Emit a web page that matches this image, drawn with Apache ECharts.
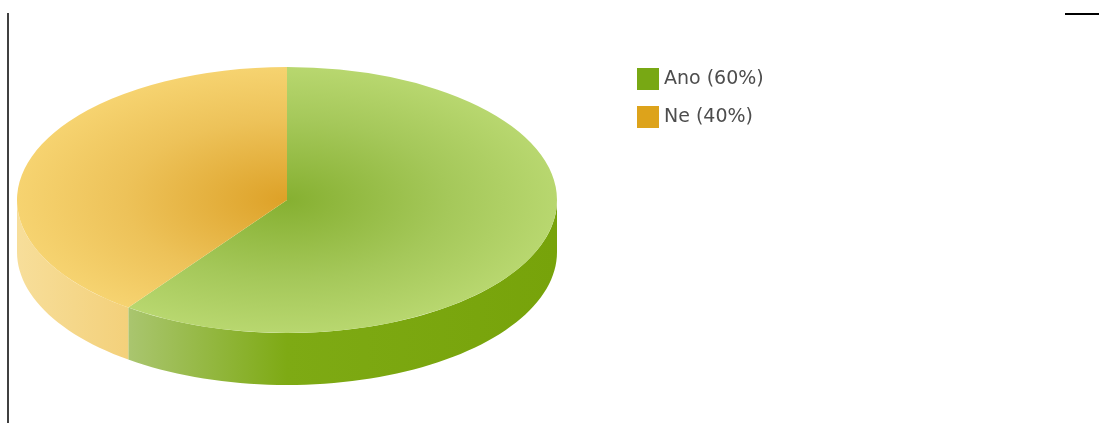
<!DOCTYPE html>
<html>
<head>
<meta charset="utf-8">
<title>Ano / Ne</title>
<script src="https://cdn.jsdelivr.net/npm/echarts@6/dist/echarts.min.js"></script>
<style>
  html, body { margin: 0; padding: 0; background: #fff; }
  #chart { width: 1099px; height: 423px; }
</style>
</head>
<body>
<div id="chart"></div>
<script>
// Answers and their counts
const categories = ['Ano', 'Ne'];
const values = [60, 40];
const swatchColors = ['#78a814', '#dda31b'];

// Shading for each slice: top face (centre -> rim) and side wall (left -> right)
const topStops = [
  ['#86b031', '#a5c85a', '#b8d76f'],
  ['#dda127', '#edc259', '#f6d370']
];
const sideStops = [
  ['#b9d186', '#a9c56e', '#7eaa14', '#77a30a'],
  ['#f7de9a', '#f3d07a', '#efc460', '#efc460']
];

// Pie layout (tilted disc)
const CX = 287, CY = 200, RX = 270, RY = 133, DEPTH = 52;

const total = values.reduce((a, b) => a + b, 0);
const startDeg = [];
let acc = 0;
values.forEach(v => { startDeg.push(acc / total * 360); acc += v; });

const rad = d => d * Math.PI / 180;
// angle measured clockwise from 12 o'clock
const rimPoint = (deg, dy) => [CX + RX * Math.sin(rad(deg)), CY - RY * Math.cos(rad(deg)) + dy];

function makeRender(idx) {
  return function (params, api) {
    const v = api.value(0);
    const a0 = startDeg[idx];
    const a1 = a0 + v / total * 360;
    const children = [];

    // visible outer wall: the front half of the disc (90..270 degrees)
    const s = Math.max(a0, 90), e = Math.min(a1, 270);
    if (e > s) {
      const pts = [];
      const steps = Math.max(8, Math.ceil((e - s) / 2));
      for (let k = 0; k <= steps; k++) pts.push(rimPoint(s + (e - s) * k / steps, 0));
      for (let k = steps; k >= 0; k--) pts.push(rimPoint(s + (e - s) * k / steps, DEPTH));
      const st = sideStops[idx];
      children.push({
        type: 'polygon',
        shape: { points: pts },
        style: {
          fill: {
            type: 'linear', global: true,
            x: CX - RX, y: 0, x2: CX + RX, y2: 0,
            colorStops: [
              { offset: 0, color: st[0] },
              { offset: 0.21, color: st[1] },
              { offset: 0.5, color: st[2] },
              { offset: 1, color: st[3] }
            ]
          }
        }
      });
    }

    // top face: circular sector squashed vertically into the ellipse
    const tp = topStops[idx];
    children.push({
      type: 'sector',
      shape: {
        cx: CX, cy: CY, r: RX, r0: 0,
        startAngle: rad(a0 - 90), endAngle: rad(a1 - 90), clockwise: true
      },
      originX: CX, originY: CY,
      scaleY: RY / RX,
      style: {
        fill: {
          type: 'radial', global: true,
          x: CX, y: CY, r: RX,
          colorStops: [
            { offset: 0, color: tp[0] },
            { offset: 0.6, color: tp[1] },
            { offset: 1, color: tp[2] }
          ]
        }
      }
    });

    return { type: 'group', children: children };
  };
}

const labels = categories.map((c, i) => c + ' (' + Math.round(values[i] / total * 100) + '%)');

const chart = echarts.init(document.getElementById('chart'), null, { renderer: 'canvas' });
chart.setOption({
  animation: false,
  backgroundColor: '#ffffff',
  legend: {
    orient: 'vertical',
    left: 632,
    top: 63,
    icon: 'rect',
    itemWidth: 22,
    itemHeight: 22,
    itemGap: 16,
    selectedMode: false,
    data: labels,
    textStyle: { fontFamily: 'DejaVu Sans', fontSize: 19, color: '#4d4d4d' }
  },
  graphic: [
    { type: 'line', shape: { x1: 8, y1: 13, x2: 8, y2: 423 }, style: { stroke: '#000', lineWidth: 1.5 } },
    { type: 'line', shape: { x1: 1065, y1: 14, x2: 1099, y2: 14 }, style: { stroke: '#000', lineWidth: 2 } }
  ],
  series: categories.map((c, i) => ({
    type: 'custom',
    name: labels[i],
    coordinateSystem: 'none',
    itemStyle: { color: swatchColors[i] },
    data: [[values[i]]],
    renderItem: makeRender(i)
  }))
});
</script>
</body>
</html>
